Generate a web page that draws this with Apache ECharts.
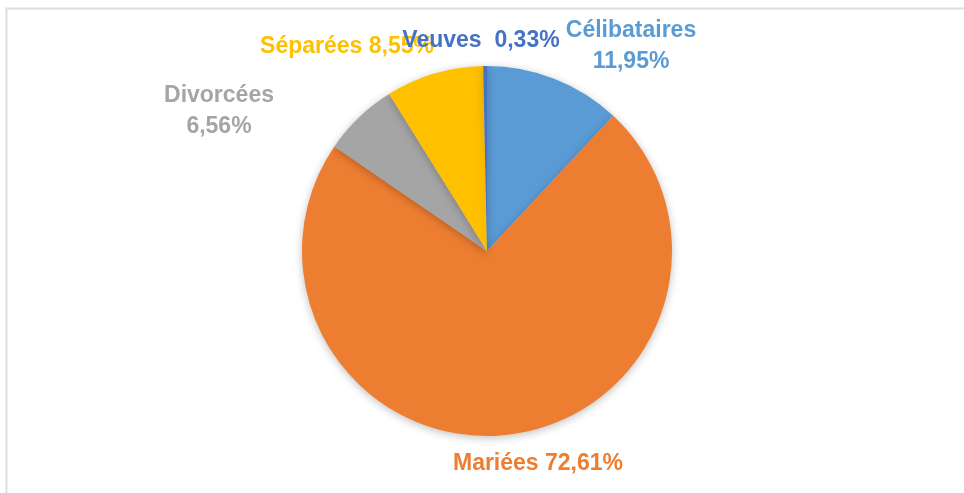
<!DOCTYPE html>
<html>
<head>
<meta charset="utf-8">
<script src="https://cdn.jsdelivr.net/npm/echarts@6/dist/echarts.min.js"></script>
<style>
  html, body { margin: 0; padding: 0; background: #fff; }
  #chart { width: 964px; height: 493px; }
</style>
</head>
<body>
<div id="chart"></div>
<script>
// data
const categories = ['Célibataires', 'Mariées', 'Divorcées', 'Séparées', 'Veuves']
const shares = [11.95, 72.61, 6.56, 8.55, 0.33]
const colors = ['#5B9BD5', '#ED7D31', '#A5A5A5', '#FFC000', '#4472C4']

// where Excel put each label (centre of the text block, px)
const labelSpots = [
  { x: 631, y: 46 },
  { x: 538, y: 464 },
  { x: 219, y: 111 },
  { x: 347, y: 47 },
  { x: 481, y: 41 },
]
// two-line labels vs one-line labels
const twoLine = [true, false, true, false, false]

function fmt(v) {
  return v.toFixed(2).replace('.', ',') + '%'
}

const chart = echarts.init(document.getElementById('chart'))

chart.setOption({
  animation: false,
  graphic: [
    {
      type: 'rect',
      shape: { x: 6.5, y: 8.5, width: 1000, height: 600 },
      style: { fill: 'none', stroke: '#dedede', lineWidth: 2 },
      silent: true,
    },
  ],
  series: [
    {
      type: 'pie',
      center: [487, 251],
      radius: 185,
      startAngle: 90,
      clockwise: true,
      data: categories.map((c, i) => ({
        name: c,
        value: shares[i],
        itemStyle: { color: colors[i] },
        label: { color: colors[i] },
      })),
      itemStyle: {
        borderWidth: 0,
        shadowBlur: 8,
        shadowColor: 'rgba(0,0,0,0.25)',
        shadowOffsetY: 2,
      },
      label: {
        show: true,
        position: 'outside',
        fontFamily: 'Liberation Sans, sans-serif',
        fontWeight: 'bold',
        fontSize: 23,
        lineHeight: 31,
        align: 'center',
        formatter: (p) => {
          const i = p.dataIndex
          if (i === 4) return p.name + '  ' + fmt(p.value)
          return p.name + (twoLine[i] ? '\n' : ' ') + fmt(p.value)
        },
      },
      labelLine: { show: false },
      labelLayout: (params) => {
        const s = labelSpots[params.dataIndex]
        return { x: s.x, y: s.y, align: 'center', verticalAlign: 'middle' }
      },
    },
  ],
})
</script>
</body>
</html>
